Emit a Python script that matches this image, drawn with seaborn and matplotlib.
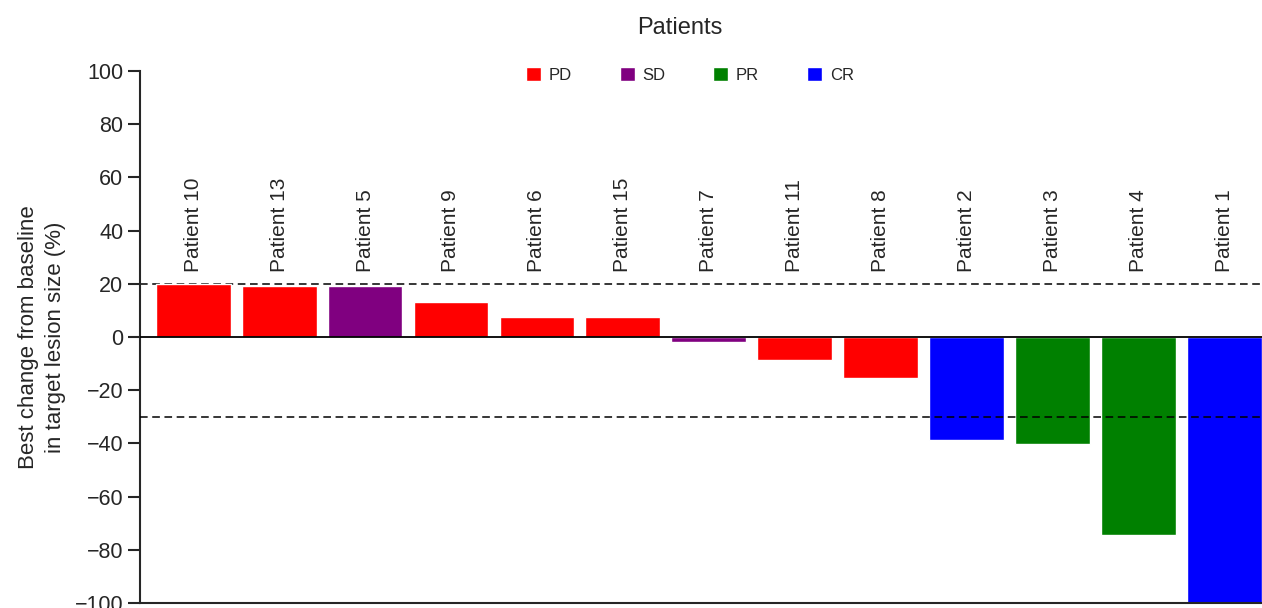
# Waterfall plot: best change from baseline in target lesion size
import pandas as pd
import seaborn as sns
import matplotlib.pyplot as plt
from matplotlib.patches import Patch

# dữ liệu
patients = ['Patient 10', 'Patient 13', 'Patient 5', 'Patient 9', 'Patient 6',
            'Patient 15', 'Patient 7', 'Patient 11', 'Patient 8', 'Patient 2',
            'Patient 3', 'Patient 4', 'Patient 1']
best_change = [19.8, 19.2, 19.2, 13.2, 7.5, 7.5, -1.8, -8.6, -15.3, -38.7, -40.2, -74.4, -100]
response = ['PD', 'PD', 'SD', 'PD', 'PD', 'PD', 'SD', 'PD', 'PD', 'CR', 'PR', 'PR', 'CR']

resp_order = ['PD', 'SD', 'PR', 'CR']
resp_colors = {'PD': '#ff0000', 'SD': '#800080', 'PR': '#008000', 'CR': '#0000ff'}
y_ticks = list(range(-100, 101, 20))

df = pd.DataFrame({'patient': patients, 'change': best_change, 'response': response})

sns.set_style('ticks')
plt.rcParams['font.family'] = ['Liberation Sans', 'DejaVu Sans']

fig = plt.figure(figsize=(12.62, 6.08), dpi=100)
ax = fig.add_axes([140 / 1262, 5 / 608, 1 - 140 / 1262, 532 / 608])

sns.barplot(data=df, x='patient', y='change', hue='response', hue_order=resp_order,
            palette=resp_colors, dodge=False, width=0.87, saturation=1,
            legend=False, ax=ax)

# đường ngưỡng +20% và -30%
ax.axhline(20, color='black', lw=1.1, ls=(0, (5, 3)), zorder=0)
ax.axhline(-30, color='black', lw=1.1, ls=(0, (5, 3)), zorder=3)
ax.axhline(0, color='black', lw=1.3, zorder=4)

for i, name in enumerate(patients):
    ax.text(i, 24.5, name, rotation=90, ha='center', va='bottom', fontsize=15)

ax.set_xlim(-0.62, 12.44)
ax.set_ylim(-100, 100)
ax.set_yticks(y_ticks)
ax.set_yticklabels([f'{v}'.replace('-', '\u2212') for v in y_ticks], fontsize=15.5)
ax.set_xticks([])
ax.set_xlabel('')
ax.set_ylabel('Best change from baseline\nin target lesion size (%)', fontsize=16,
              labelpad=6, linespacing=1.4)
ax.tick_params(axis='y', length=9, width=1.5, pad=3)
sns.despine(ax=ax)
for side in ['left', 'bottom']:
    ax.spines[side].set_linewidth(1.5)

handles = [Patch(facecolor=resp_colors[r], label=r) for r in resp_order]
ax.legend(handles=handles, loc='upper center', bbox_to_anchor=(0.49, 1.035), ncol=4,
          frameon=False, fontsize=12, handlelength=0.9, handleheight=0.9,
          handletextpad=0.45, columnspacing=2.9)

fig.text(680 / 1262, 1 - 28 / 608, 'Patients', ha='center', va='center', fontsize=17)

plt.savefig('out.png', dpi=100)
